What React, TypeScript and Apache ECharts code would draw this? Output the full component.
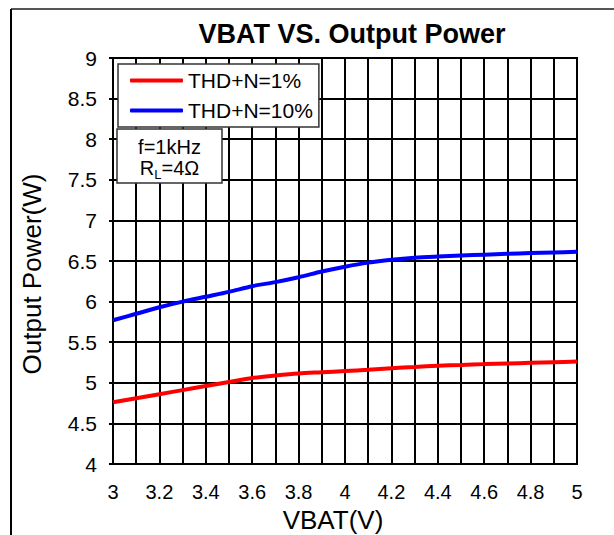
import React, { useEffect, useRef } from "react";
import * as echarts from "echarts";

const vbat = [3.0, 3.1, 3.2, 3.3, 3.4, 3.5, 3.6, 3.7, 3.8, 3.9, 4.0, 4.1, 4.2, 4.3, 4.4, 4.5, 4.6, 4.7, 4.8, 4.9, 5.0];
const thd1 = [4.76, 4.81, 4.86, 4.91, 4.96, 5.01, 5.06, 5.09, 5.115, 5.13, 5.145, 5.16, 5.18, 5.195, 5.21, 5.22, 5.23, 5.238, 5.246, 5.254, 5.262];
const thd10 = [5.77, 5.85, 5.93, 6.0, 6.06, 6.12, 6.19, 6.24, 6.3, 6.37, 6.43, 6.48, 6.515, 6.54, 6.555, 6.567, 6.578, 6.588, 6.597, 6.605, 6.613];
const xTickLabels = ["3", "3.2", "3.4", "3.6", "3.8", "4", "4.2", "4.4", "4.6", "4.8", "5"];
const yTickLabels = ["4", "4.5", "5", "5.5", "6", "6.5", "7", "7.5", "8", "8.5", "9"];
const seriesNames = ["THD+N=1%", "THD+N=10%"];
const FONT = "'Liberation Sans', Arial, sans-serif";

export default function App() {
  const ref = useRef<HTMLDivElement>(null);
  useEffect(() => {
    if (!ref.current) return;
    const chart = echarts.init(ref.current, undefined, { renderer: "svg" });
    const fmtX = (v: number) => {
      const s = String(Math.round(v * 10) / 10);
      return xTickLabels.includes(s) ? s : "";
    };
    const fmtY = (v: number) => {
      const s = String(Math.round(v * 10) / 10);
      return yTickLabels.includes(s) ? s : "";
    };
    chart.setOption({
      animation: false,
      backgroundColor: "#ffffff",
      textStyle: { fontFamily: FONT },
      title: {
        text: "VBAT VS. Output Power",
        left: 347,
        textAlign: "center",
        top: 15,
        textStyle: { fontSize: 27, fontWeight: "bold", color: "#000", fontFamily: FONT },
      },
      grid: {
        left: 113,
        right: 37,
        top: 58,
        bottom: 71,
        containLabel: false,
        outerBoundsMode: "none",
        show: true,
        borderColor: "#000",
        borderWidth: 2,
      },
      legend: {
        orient: "vertical",
        left: 118,
        top: 64,
        data: seriesNames,
        backgroundColor: "#fff",
        borderColor: "#333",
        borderWidth: 1.5,
        borderRadius: 0,
        padding: [6, 6, 6, 12],
        itemGap: 9,
        itemWidth: 53,
        itemHeight: 4,
        icon: "roundRect",
        z: 50,
        textStyle: { fontSize: 21, color: "#000", fontFamily: FONT },
      },
      xAxis: {
        type: "value",
        min: 3,
        max: 5,
        interval: 0.1,
        name: "VBAT(V)",
        nameLocation: "middle",
        nameGap: 40,
        nameTextStyle: { fontSize: 26, color: "#000", fontFamily: FONT, padding: [0, 24, 0, 0] },
        axisLine: { show: true, lineStyle: { color: "#000", width: 2 } },
        axisTick: { show: false },
        axisLabel: { formatter: fmtX, fontSize: 20, color: "#000", margin: 18, fontFamily: FONT, showMinLabel: true, showMaxLabel: true },
        splitLine: { show: true, lineStyle: { color: "#000", width: 2 } },
      },
      yAxis: {
        type: "value",
        min: 4,
        max: 9,
        interval: 0.5,
        axisLine: { show: true, lineStyle: { color: "#000", width: 2 } },
        axisTick: { show: true, inside: false, length: 4, lineStyle: { color: "#000", width: 2 } },
        axisLabel: { formatter: fmtY, fontSize: 21, color: "#000", margin: 16, fontFamily: FONT },
        splitLine: { show: true, lineStyle: { color: "#000", width: 2 } },
      },
      series: [
        {
          name: seriesNames[0],
          type: "line",
          data: vbat.map((x, i) => [x, thd1[i]]),
          smooth: 0.3,
          showSymbol: false,
          symbol: "none",
          lineStyle: { color: "#ff0000", width: 4 },
          itemStyle: { color: "#ff0000" },
        },
        {
          name: seriesNames[1],
          type: "line",
          data: vbat.map((x, i) => [x, thd10[i]]),
          smooth: 0.3,
          showSymbol: false,
          symbol: "none",
          lineStyle: { color: "#0000ff", width: 4 },
          itemStyle: { color: "#0000ff" },
        },
      ],
      graphic: [
        { type: "line", shape: { x1: 11, y1: 9, x2: 614, y2: 9 }, style: { stroke: "#555", lineWidth: 2 }, z: 100 },
        { type: "line", shape: { x1: 11, y1: 9, x2: 11, y2: 535 }, style: { stroke: "#000", lineWidth: 2 }, z: 100 },
        {
          type: "text",
          x: 32,
          y: 274,
          rotation: Math.PI / 2,
          z: 100,
          style: { text: "Output Power(W)", fontSize: 26, fill: "#000", fontFamily: FONT, align: "center", verticalAlign: "middle" },
        },
        { type: "rect", x: 117, y: 129, z: 100, shape: { x: 0, y: 0, width: 105, height: 54 }, style: { fill: "#fff", stroke: "#333", lineWidth: 1.5 } },
        {
          type: "text",
          x: 169.5,
          y: 146.5,
          z: 101,
          style: { text: "f=1kHz", fontSize: 20, fill: "#000", fontFamily: FONT, align: "center", verticalAlign: "middle" },
        },
        {
          type: "text",
          x: 169.5,
          y: 168,
          z: 101,
          style: {
            text: "{a|R}{b|L}{a|=4Ω}",
            fontFamily: FONT,
            align: "center",
            verticalAlign: "middle",
            rich: {
              a: { fontSize: 20, fill: "#000", fontFamily: FONT, verticalAlign: "middle" },
              b: { fontSize: 13, fill: "#000", fontFamily: FONT, verticalAlign: "bottom", padding: [12, 0, 0, 0] },
            },
          },
        },
      ],
    });
    return () => chart.dispose();
  }, []);
  return <div ref={ref} style={{ position: "fixed", left: 0, top: 0, width: 614, height: 535 }} />;
}
